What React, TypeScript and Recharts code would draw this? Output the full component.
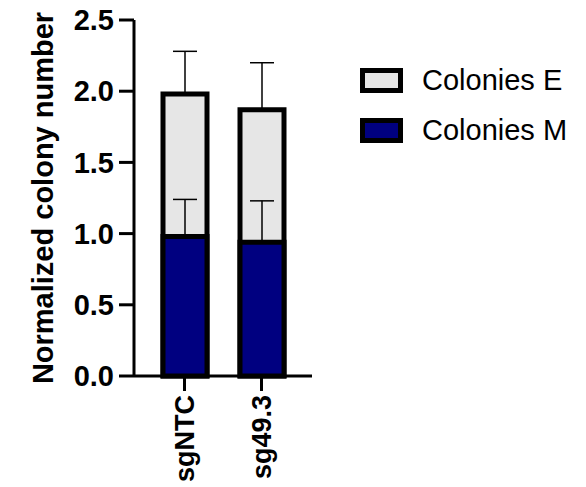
import { Bar, BarChart, ErrorBar, Legend, XAxis, YAxis } from "recharts";

const groups = ["sgNTC", "sg49.3"];
const coloniesM = [0.98, 0.94];
const coloniesE = [1.0, 0.93];
const errM = [0.26, 0.29];
const errE = [0.3, 0.33];
const yTicks = [0, 0.5, 1, 1.5, 2, 2.5];

const FONT = "Arial, 'Liberation Sans', sans-serif";

// E is drawn as a full-height bar (M + E) behind the M bar so M's error bar stays visible
const data = groups.map((g, i) => ({
  group: g,
  m: coloniesM[i],
  total: coloniesM[i] + coloniesE[i],
  errM: [0, errM[i]],
  errE: [0, errE[i]],
}));

function GroupTick({ x, y, payload }: any) {
  return (
    <text
      x={x}
      y={y}
      transform={`rotate(-90, ${x}, ${y})`}
      textAnchor="end"
      dominantBaseline="central"
      fontFamily={FONT}
      fontWeight="bold"
      fontSize={27}
      fill="#000"
    >
      {payload.value}
    </text>
  );
}

function YTitle({ viewBox }: any) {
  const cx = viewBox.x + 43;
  const cy = viewBox.y + viewBox.height / 2;
  return (
    <text
      x={cx}
      y={cy}
      transform={`rotate(-90, ${cx}, ${cy})`}
      textAnchor="middle"
      dominantBaseline="central"
      fontFamily={FONT}
      fontWeight="bold"
      fontSize={29}
      fill="#000"
    >
      Normalized colony number
    </text>
  );
}

function LegendBox({ payload }: any) {
  return (
    <div style={{ fontFamily: FONT }}>
      {(payload || []).map((p: any) => (
        <div key={p.value} style={{ display: "flex", alignItems: "center", height: 50 }}>
          <span
            style={{
              boxSizing: "border-box",
              width: 43,
              height: 25,
              border: "5px solid #000",
              background: p.color,
              marginRight: 19,
            }}
          />
          <span style={{ fontSize: 29, color: "#000" }}>{p.value}</span>
        </div>
      ))}
    </div>
  );
}

export default function App() {
  return (
    <div style={{ position: "absolute", left: 0, top: 0, background: "#fff" }}>
      <BarChart
        width={586}
        height={487}
        data={data}
        margin={{ top: 20, right: 274, left: 0, bottom: 0 }}
      >
        <XAxis
          xAxisId="e"
          dataKey="group"
          padding={{ left: 12, right: 12 }}
          height={111}
          tickSize={15}
          tickMargin={4}
          axisLine={{ stroke: "#000", strokeWidth: 3 }}
          tickLine={{ stroke: "#000", strokeWidth: 3 }}
          tick={<GroupTick />}
          interval={0}
        />
        <XAxis xAxisId="m" dataKey="group" padding={{ left: 12, right: 12 }} hide />
        <YAxis
          domain={[0, 2.5]}
          ticks={yTicks}
          width={134}
          tickSize={15}
          tickMargin={5}
          tickFormatter={(v: number) => v.toFixed(1)}
          axisLine={{ stroke: "#000", strokeWidth: 3 }}
          tickLine={{ stroke: "#000", strokeWidth: 3 }}
          tick={{ fill: "#000", fontSize: 29, fontWeight: "bold", fontFamily: FONT }}
          label={{ content: <YTitle /> }}
        />
        <Legend
          layout="vertical"
          align="center"
          verticalAlign="middle"
          wrapperStyle={{ left: 360, top: 55, width: "auto" }}
          content={<LegendBox />}
        />
        <Bar
          xAxisId="e"
          dataKey="total"
          name="Colonies E"
          fill="#e6e6e6"
          stroke="#000"
          strokeWidth={5}
          barSize={44}
          isAnimationActive={false}
        >
          <ErrorBar dataKey="errE" direction="y" width={12} stroke="#000" strokeWidth={1.5} />
        </Bar>
        <Bar
          xAxisId="m"
          dataKey="m"
          name="Colonies M"
          fill="#000080"
          stroke="#000"
          strokeWidth={5}
          barSize={44}
          isAnimationActive={false}
        >
          <ErrorBar dataKey="errM" direction="y" width={12} stroke="#000" strokeWidth={1.5} />
        </Bar>
      </BarChart>
    </div>
  );
}
